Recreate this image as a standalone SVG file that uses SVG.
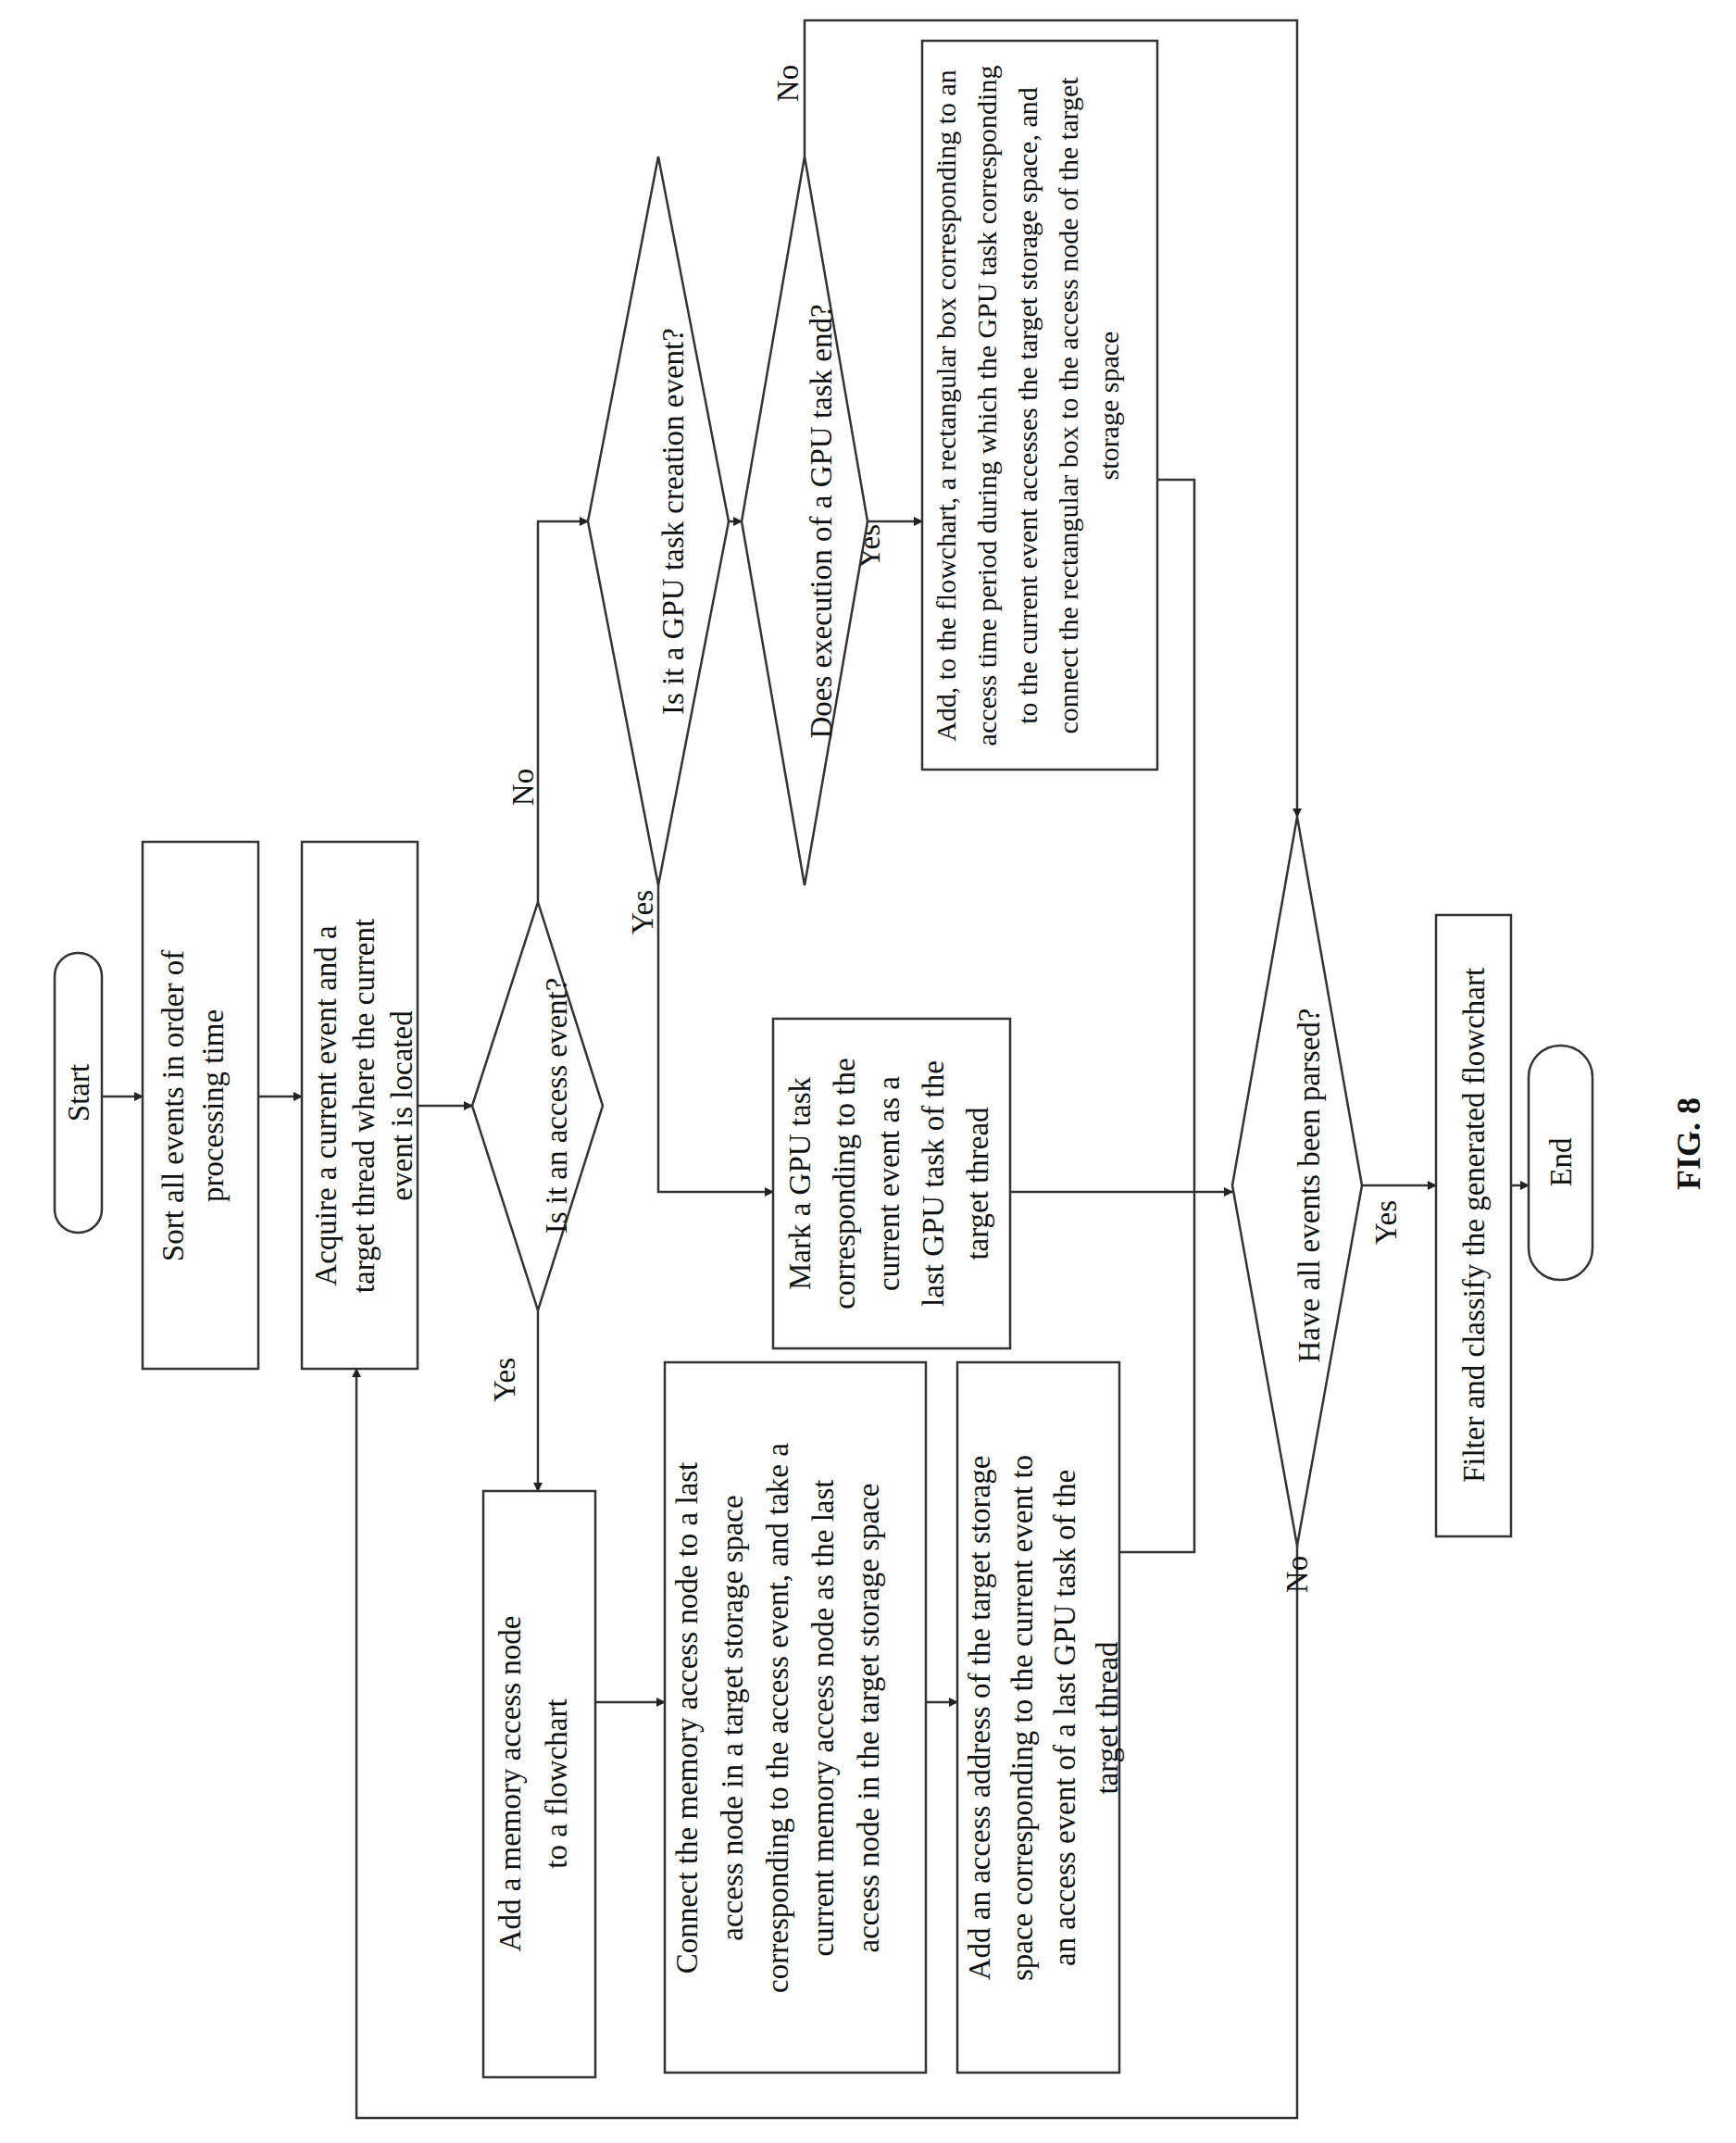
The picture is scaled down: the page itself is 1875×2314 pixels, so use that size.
<svg xmlns="http://www.w3.org/2000/svg" width="1875" height="2314" viewBox="0 0 1875 2314">
<style>
.b{fill:#fff;stroke:#333;stroke-width:2.5}
.c{fill:none;stroke:#333;stroke-width:2.5}
text{font-family:"Liberation Serif",serif;font-size:33px;fill:#111;text-anchor:middle}
.s{font-size:30px}
.f{font-weight:bold;font-size:36px}
</style>
<defs><marker id="a" markerWidth="10" markerHeight="10" refX="9" refY="5" orient="auto" markerUnits="userSpaceOnUse"><path d="M0,0 L10,5 L0,10 Z" fill="#222"/></marker></defs>
<rect width="1875" height="2314" fill="#fff"/>
<g id="connectors">
<path class="c" d="M110,1184 H154" marker-end="url(#a)"/>
<path class="c" d="M279,1184 H326" marker-end="url(#a)"/>
<path class="c" d="M451,1194 H510" marker-end="url(#a)"/>
<path class="c" d="M581,1415 V1610" marker-end="url(#a)"/>
<path class="c" d="M581,974 V563 H635" marker-end="url(#a)"/>
<path class="c" d="M787,563 H801" marker-end="url(#a)"/>
<path class="c" d="M937,563 H996" marker-end="url(#a)"/>
<path class="c" d="M869,169 V22 H1401 V882" marker-end="url(#a)"/>
<path class="c" d="M711,956 V1287 H835" marker-end="url(#a)"/>
<path class="c" d="M1250,518 H1290 V1676 H1209"/>
<path class="c" d="M1091,1287 H1331" marker-end="url(#a)"/>
<path class="c" d="M643,1838 H718" marker-end="url(#a)"/>
<path class="c" d="M1000,1838 H1034" marker-end="url(#a)"/>
<path class="c" d="M1401,1669 V2287 H385 V1478" marker-end="url(#a)"/>
<path class="c" d="M1471,1280 H1551" marker-end="url(#a)"/>
<path class="c" d="M1632,1280 H1651" marker-end="url(#a)"/>
<text transform="translate(556,1490) rotate(-90)">Yes</text>
<text transform="translate(576,850) rotate(-90)">No</text>
<text transform="translate(705,985) rotate(-90)">Yes</text>
<text transform="translate(778,545) rotate(-90)">No</text>
<text transform="translate(950,590) rotate(-90)">Yes</text>
<text transform="translate(862,90) rotate(-90)">No</text>
<text transform="translate(1412,1700) rotate(-90)">No</text>
<text transform="translate(1508,1320) rotate(-90)">Yes</text>
</g>
<g id="start"><rect class="b" x="59" y="1029" width="51" height="302" rx="25"/><text transform="translate(96,1180) rotate(-90)">Start</text></g>
<g id="sort"><rect class="b" x="154" y="909" width="125" height="569"/><text transform="translate(198,1194) rotate(-90)"><tspan x="0" y="0">Sort all events in order of</tspan><tspan x="0" y="43">processing time</tspan></text></g>
<g id="acquire"><rect class="b" x="326" y="909" width="125" height="569"/><text transform="translate(363,1194) rotate(-90)"><tspan x="0" y="0">Acquire a current event and a</tspan><tspan x="0" y="41">target thread where the current</tspan><tspan x="0" y="82">event is located</tspan></text></g>
<g id="d-access"><path class="b" d="M510,1194 L581,974 L651,1194 L581,1415 Z"/><text transform="translate(612,1194) rotate(-90)">Is it an access event?</text></g>
<g id="d-create"><path class="b" d="M635,563 L711,169 L787,563 L711,956 Z"/><text transform="translate(738,563) rotate(-90)">Is it a GPU task creation event?</text></g>
<g id="d-end"><path class="b" d="M801,563 L869,169 L937,563 L869,956 Z"/><text transform="translate(898,563) rotate(-90)">Does execution of a GPU task end?</text></g>
<g id="add-rect"><rect class="b" x="996" y="44" width="254" height="787"/><text class="s" transform="translate(1032,438) rotate(-90)"><tspan x="0" y="0">Add, to the flowchart, a rectangular box corresponding to an</tspan><tspan x="0" y="44">access time period during which the GPU task corresponding</tspan><tspan x="0" y="88">to the current event accesses the target storage space, and</tspan><tspan x="0" y="132">connect the rectangular box to the access node of the target</tspan><tspan x="0" y="176">storage space</tspan></text></g>
<g id="mark"><rect class="b" x="835" y="1100" width="256" height="356"/><text transform="translate(875,1278) rotate(-90)"><tspan x="0" y="0">Mark a GPU task</tspan><tspan x="0" y="48">corresponding to the</tspan><tspan x="0" y="96">current event as a</tspan><tspan x="0" y="144">last GPU task of the</tspan><tspan x="0" y="192">target thread</tspan></text></g>
<g id="add-node"><rect class="b" x="522" y="1610" width="121" height="633"/><text transform="translate(562,1926) rotate(-90)"><tspan x="0" y="0">Add a memory access node</tspan><tspan x="0" y="50">to a flowchart</tspan></text></g>
<g id="connect"><rect class="b" x="718" y="1471" width="282" height="767"/><text transform="translate(753,1855) rotate(-90)"><tspan x="0" y="0">Connect the memory access node to a last</tspan><tspan x="0" y="49">access node in a target storage space</tspan><tspan x="0" y="98">corresponding to the access event, and take a</tspan><tspan x="0" y="147">current memory access node as the last</tspan><tspan x="0" y="196">access node in the target storage space</tspan></text></g>
<g id="add-addr"><rect class="b" x="1034" y="1471" width="175" height="767"/><text transform="translate(1069,1855) rotate(-90)"><tspan x="0" y="0">Add an access address of the target storage</tspan><tspan x="0" y="46">space corresponding to the current event to</tspan><tspan x="0" y="92">an access event of a last GPU task of the</tspan><tspan x="0" y="138">target thread</tspan></text></g>
<g id="d-parsed"><path class="b" d="M1331,1280 L1401,882 L1471,1280 L1401,1669 Z"/><text transform="translate(1425,1280) rotate(-90)">Have all events been parsed?</text></g>
<g id="filter"><rect class="b" x="1551" y="988" width="81" height="671"/><text transform="translate(1603,1323) rotate(-90)">Filter and classify the generated flowchart</text></g>
<g id="end"><rect class="b" x="1651" y="1129" width="69" height="253" rx="34"/><text transform="translate(1697,1255) rotate(-90)">End</text></g>
<text class="f" transform="translate(1836,1235) rotate(-90)">FIG. 8</text>
</svg>
